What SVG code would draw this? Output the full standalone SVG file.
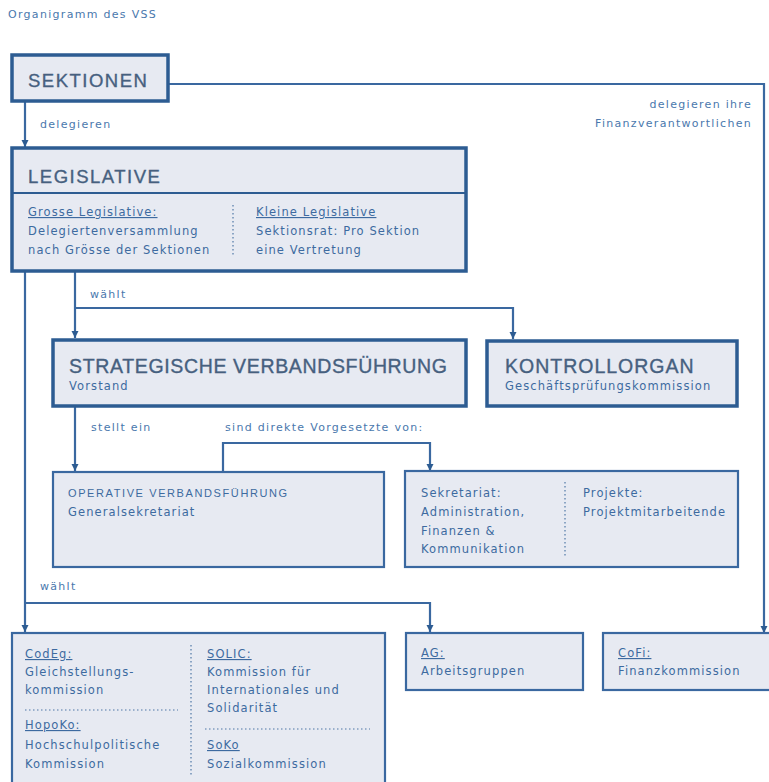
<svg xmlns="http://www.w3.org/2000/svg" width="769" height="782" viewBox="0 0 769 782">
<style>
.big{fill:#e7eaf2;stroke:#2d5c92;stroke-width:3.5}
.box{fill:#e7eaf2;stroke:#3a68a0;stroke-width:2.2}
.con{fill:none;stroke:#3a68a0;stroke-width:2.2}
.dot{fill:none;stroke:#4f77a6;stroke-width:1.2;stroke-dasharray:1.5 2.5}
.ttl{font-family:"Liberation Sans",Arial,sans-serif;font-size:18.5px;fill:#46607f;stroke:#46607f;stroke-width:0.35px;letter-spacing:1.5px}
.ttl2{font-family:"Liberation Sans",Arial,sans-serif;font-size:19.5px;fill:#46607f;stroke:#46607f;stroke-width:0.35px;letter-spacing:0.65px}
.sub{font-family:"DejaVu Sans",Verdana,sans-serif;font-size:11.5px;fill:#3d6aa0;letter-spacing:1.1px}
.cap{font-family:"Liberation Sans",Arial,sans-serif;font-size:11px;fill:#3d6aa0;letter-spacing:1.6px}
.lbl{font-family:"DejaVu Sans",Verdana,sans-serif;font-size:11px;fill:#4a78ad;letter-spacing:1.3px}
.u{text-decoration:underline}
</style>
<defs>
<marker id="ah" viewBox="0 0 10 10" refX="10" refY="5" markerWidth="3.4" markerHeight="3.4" orient="auto" markerUnits="strokeWidth">
<path d="M0,0 L10,5 L0,10 z" fill="#2d5c92"/>
</marker>
</defs>
<rect width="769" height="782" fill="#ffffff"/>
<text x="8" y="18" class="lbl">Organigramm des VSS</text>

<g id="connectors">
<path class="con" d="M168,84 H764 V633" marker-end="url(#ah)"/>
<path class="con" d="M25,101 V147" marker-end="url(#ah)"/>
<path class="con" d="M75,271 V338" marker-end="url(#ah)"/>
<path class="con" d="M75,308 H513 V339" marker-end="url(#ah)"/>
<path class="con" d="M75,406 V471" marker-end="url(#ah)"/>
<path class="con" d="M223,472 V443 H430 V471" marker-end="url(#ah)"/>
<path class="con" d="M25,271 V632" marker-end="url(#ah)"/>
<path class="con" d="M25,603 H430 V632" marker-end="url(#ah)"/>
<text x="40" y="128" class="lbl">delegieren</text>
<text x="752" y="108" class="lbl" text-anchor="end">delegieren ihre</text>
<text x="752" y="127" class="lbl" text-anchor="end">Finanzverantwortlichen</text>
<text x="90" y="298" class="lbl">wählt</text>
<text x="91" y="431" class="lbl">stellt ein</text>
<text x="225" y="431" class="lbl">sind direkte Vorgesetzte von:</text>
<text x="40" y="590" class="lbl">wählt</text>
</g>

<g id="sektionen">
<rect x="12" y="55" width="156" height="46" class="big"/>
<text x="28" y="87" class="ttl">SEKTIONEN</text>
</g>

<g id="legislative">
<rect x="12" y="148" width="454" height="123" class="big"/>
<line x1="12" y1="193" x2="466" y2="193" stroke="#2d5c92" stroke-width="2"/>
<text x="28" y="183" class="ttl">LEGISLATIVE</text>
<text x="28" y="216" class="sub u">Grosse Legislative:</text>
<text x="28" y="235" class="sub">Delegiertenversammlung</text>
<text x="28" y="254" class="sub">nach Grösse der Sektionen</text>
<line x1="233" y1="205" x2="233" y2="256" class="dot"/>
<text x="256" y="216" class="sub u">Kleine Legislative</text>
<text x="256" y="235" class="sub">Sektionsrat: Pro Sektion</text>
<text x="256" y="254" class="sub">eine Vertretung</text>
</g>

<g id="strategische">
<rect x="53" y="340" width="413" height="66" class="big"/>
<text x="69" y="373" class="ttl2">STRATEGISCHE VERBANDSFÜHRUNG</text>
<text x="69" y="390" class="sub">Vorstand</text>
</g>

<g id="kontrollorgan">
<rect x="487" y="341" width="250" height="65" class="big"/>
<text x="505" y="373" class="ttl2" style="letter-spacing:1px">KONTROLLORGAN</text>
<text x="505" y="390" class="sub">Geschäftsprüfungskommission</text>
</g>

<g id="operative">
<rect x="53" y="472" width="331" height="95" class="box"/>
<text x="68" y="497" class="cap">OPERATIVE VERBANDSFÜHRUNG</text>
<text x="68" y="516" class="sub">Generalsekretariat</text>
</g>

<g id="sekretariat">
<rect x="405" y="471" width="333" height="96" class="box"/>
<text x="421" y="497" class="sub">Sekretariat:</text>
<text x="421" y="516" class="sub">Administration,</text>
<text x="421" y="535" class="sub">Finanzen &amp;</text>
<text x="421" y="553" class="sub">Kommunikation</text>
<line x1="565" y1="482" x2="565" y2="556" class="dot"/>
<text x="583" y="497" class="sub">Projekte:</text>
<text x="583" y="516" class="sub">Projektmitarbeitende</text>
</g>

<g id="kommissionen">
<rect x="12" y="633" width="373" height="160" class="box"/>
<text x="25" y="658" class="sub u">CodEg:</text>
<text x="25" y="676" class="sub">Gleichstellungs-</text>
<text x="25" y="694" class="sub">kommission</text>
<line x1="25" y1="710" x2="178" y2="710" class="dot"/>
<text x="25" y="729" class="sub u">HopoKo:</text>
<text x="25" y="749" class="sub">Hochschulpolitische</text>
<text x="25" y="768" class="sub">Kommission</text>
<line x1="191" y1="645" x2="191" y2="775" class="dot"/>
<text x="207" y="658" class="sub u">SOLIC:</text>
<text x="207" y="676" class="sub">Kommission für</text>
<text x="207" y="694" class="sub">Internationales und</text>
<text x="207" y="712" class="sub">Solidarität</text>
<line x1="205" y1="729" x2="370" y2="729" class="dot"/>
<text x="207" y="749" class="sub u">SoKo</text>
<text x="207" y="768" class="sub">Sozialkommission</text>
</g>

<g id="ag">
<rect x="406" y="633" width="177" height="57" class="box"/>
<text x="421" y="657" class="sub u">AG:</text>
<text x="421" y="675" class="sub">Arbeitsgruppen</text>
</g>

<g id="cofi">
<rect x="603" y="633" width="180" height="57" class="box"/>
<text x="618" y="657" class="sub u">CoFi:</text>
<text x="618" y="675" class="sub">Finanzkommission</text>
</g>
</svg>
